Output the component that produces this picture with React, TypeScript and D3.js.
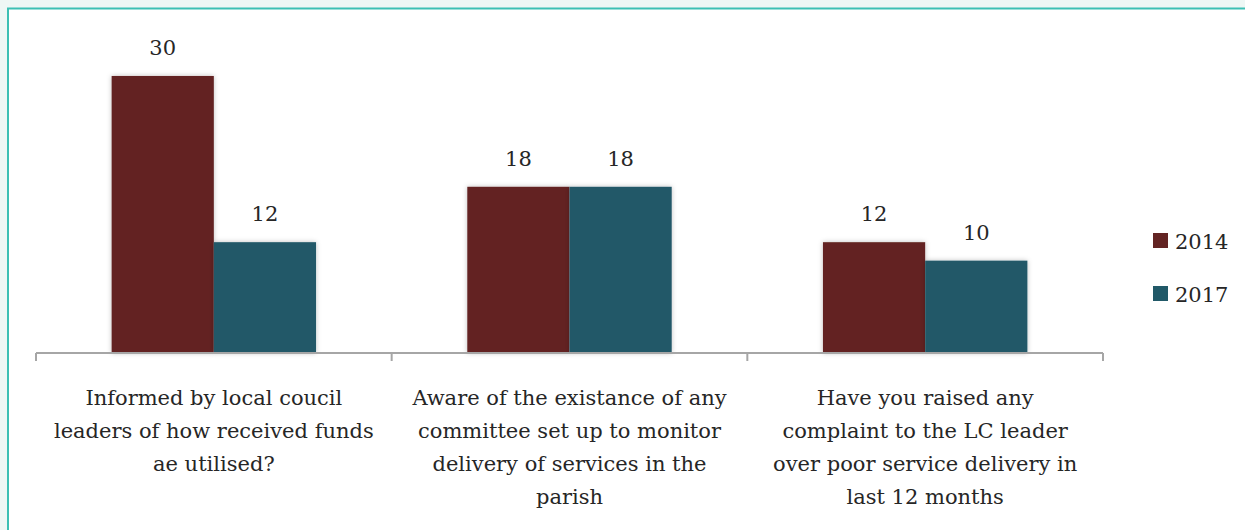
import React, { useEffect, useRef } from "react";
import * as d3 from "d3";

const categories: string[][] = [
  ["Informed by local coucil", "leaders of how received funds", "ae utilised?"],
  ["Aware of the existance of any", "committee set up to monitor", "delivery of services in the", "parish"],
  ["Have you raised any", "complaint to the LC leader", "over poor service delivery in", "last 12 months"],
];
const seriesNames = ["2014", "2017"];
const values2014 = [30, 18, 12];
const values2017 = [12, 18, 10];
const colors = ["#632423", "#215968"];

const W = 1245;
const H = 530;
const FONT = "'DejaVu Serif', 'Liberation Serif', serif";

export default function App() {
  const ref = useRef<SVGSVGElement>(null);

  useEffect(() => {
    const svg = d3.select(ref.current);
    svg.selectAll("*").remove();

    svg.append("rect").attr("width", W).attr("height", H).attr("fill", "#eef7f5");
    svg
      .append("rect")
      .attr("x", 8)
      .attr("y", 8.5)
      .attr("width", W + 10)
      .attr("height", H + 10)
      .attr("fill", "#ffffff")
      .attr("stroke", "#3cc0b4")
      .attr("stroke-width", 2);

    const defs = svg.append("defs");
    const f = defs
      .append("filter")
      .attr("id", "sh")
      .attr("x", "-20%")
      .attr("y", "-20%")
      .attr("width", "140%")
      .attr("height", "140%");
    f.append("feDropShadow")
      .attr("dx", 0)
      .attr("dy", 0)
      .attr("stdDeviation", 2.5)
      .attr("flood-color", "#000")
      .attr("flood-opacity", 0.25);

    const left = 36;
    const right = 1103;
    const baseY = 353;

    const x0 = d3
      .scaleBand<number>()
      .domain(d3.range(categories.length))
      .range([left, right])
      .paddingInner(0)
      .paddingOuter(0);
    const x1 = d3
      .scaleBand<number>()
      .domain([0, 1])
      .range([0, x0.bandwidth()])
      .paddingInner(0)
      .paddingOuter(0.74);
    const y = d3.scaleLinear().domain([0, 35]).range([baseY, baseY - 323.2]);

    const txt = (sel: d3.Selection<SVGTextElement, unknown, null, undefined>) =>
      sel.style("font-family", FONT).style("font-size", "21px").attr("fill", "#262626");

    const series = [values2014, values2017];
    const g = svg.append("g");
    series.forEach((vals, si) => {
      vals.forEach((v, ci) => {
        const bx = (x0(ci) as number) + (x1(si) as number);
        g.append("rect")
          .attr("x", bx)
          .attr("y", y(v))
          .attr("width", x1.bandwidth())
          .attr("height", baseY - y(v))
          .attr("fill", colors[si])
          .attr("filter", "url(#sh)");
      });
    });
    series.forEach((vals, si) => {
      vals.forEach((v, ci) => {
        const bx = (x0(ci) as number) + (x1(si) as number);
        g.append("text")
          .attr("x", bx + x1.bandwidth() / 2)
          .attr("y", y(v) - 21)
          .attr("text-anchor", "middle")
          .call(txt)
          .text(String(v));
      });
    });

    // category axis
    const axis = svg.append("g").attr("stroke", "#a6a6a6").attr("stroke-width", 2);
    axis.append("line").attr("x1", left).attr("x2", right).attr("y1", baseY).attr("y2", baseY);
    const ticks = [...d3.range(categories.length).map((i) => x0(i) as number), right];
    ticks.forEach((t) => {
      axis.append("line").attr("x1", t).attr("x2", t).attr("y1", baseY).attr("y2", baseY + 8);
    });

    categories.forEach((lines, ci) => {
      const cx = (x0(ci) as number) + x0.bandwidth() / 2;
      const t = svg.append("text").attr("text-anchor", "middle").call(txt);
      lines.forEach((ln, li) => {
        t.append("tspan").attr("x", cx).attr("y", 405 + li * 33).text(ln);
      });
    });

    // legend
    seriesNames.forEach((n, i) => {
      const ly = 233 + i * 53;
      svg.append("rect").attr("x", 1153).attr("y", ly).attr("width", 15).attr("height", 15).attr("fill", colors[i]);
      svg
        .append("text")
        .attr("x", 1175)
        .attr("y", ly + 16)
        .call(txt)
        .text(n);
    });
  }, []);

  return (
    <div style={{ position: "fixed", left: 0, top: 0, width: W, height: H }}>
      <svg ref={ref} width={W} height={H} style={{ display: "block" }} />
    </div>
  );
}
